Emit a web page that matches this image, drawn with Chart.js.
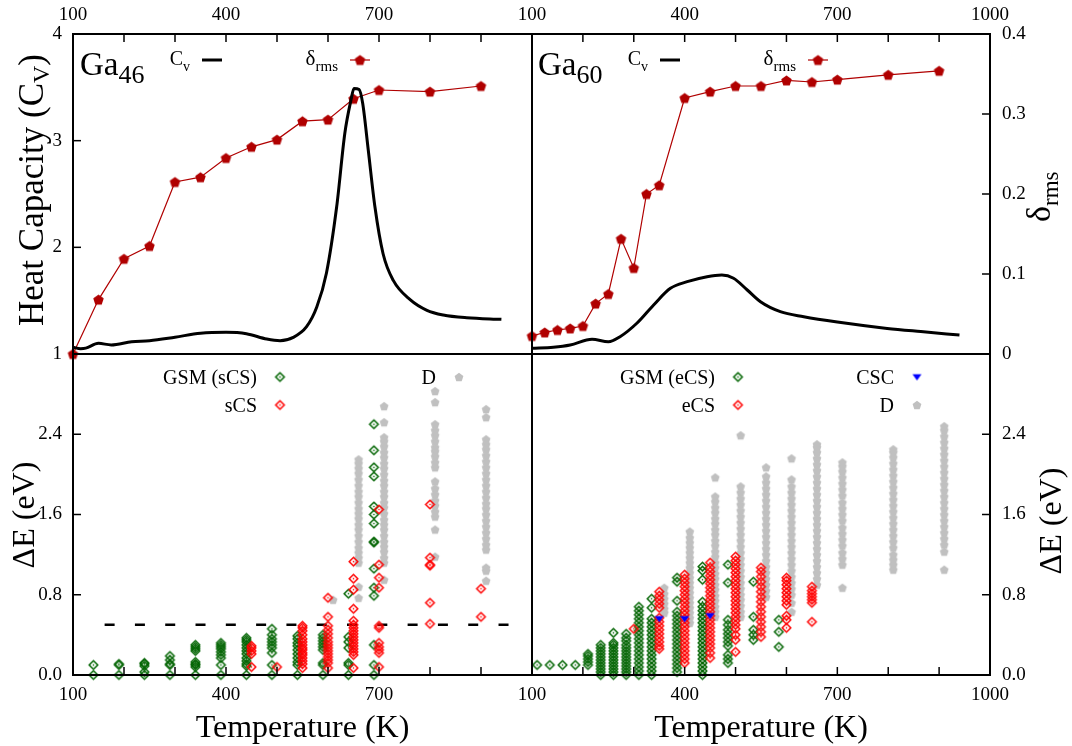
<!DOCTYPE html>
<html>
<head>
<meta charset="utf-8">
<script src="https://cdn.jsdelivr.net/npm/chart.js@4/dist/chart.umd.min.js"></script>
<style>
  body { margin: 0; background: #fff; }
  #wrap { position: relative; width: 1072px; height: 746px; }
  canvas { position: absolute; left: 0; top: 0; }
</style>
</head>
<body>
<div id="wrap">
  <canvas id="tl" width="1072" height="746"></canvas>
  <canvas id="tr" width="1072" height="746"></canvas>
  <canvas id="bl" width="1072" height="746"></canvas>
  <canvas id="br" width="1072" height="746"></canvas>
</div>
<script>
// ---------- data ----------

// Ga46 : heat capacity and delta_rms
const cvTempL = [100, 115, 125, 150, 175, 215, 250, 300, 350, 400, 440, 480, 506, 532, 558, 578, 597, 617, 633, 645, 651, 661, 668, 679, 692, 708, 728, 761, 794, 826, 872, 940]
const cvL = [1.063, 1.05, 1.055, 1.10, 1.085, 1.115, 1.125, 1.158, 1.194, 1.203, 1.19, 1.14, 1.125, 1.156, 1.256, 1.44, 1.76, 2.38, 3.07, 3.38, 3.49, 3.48, 3.35, 2.91, 2.38, 1.94, 1.69, 1.51, 1.41, 1.366, 1.34, 1.325]
const deltaTempL = [100, 150, 200, 250, 300, 350, 400, 450, 500, 550, 600, 650, 700, 800, 900]
const deltaL = [0.0, 0.068, 0.119, 0.135, 0.215, 0.221, 0.245, 0.259, 0.268, 0.291, 0.293, 0.319, 0.330, 0.328, 0.335]

// Ga60 : heat capacity and delta_rms
const cvTempR = [100, 142, 175, 218, 250, 273, 306, 339, 372, 405, 444, 473, 496, 523, 549, 588, 634, 700, 798, 864, 940]
const cvR = [1.053, 1.063, 1.084, 1.138, 1.115, 1.162, 1.288, 1.46, 1.616, 1.678, 1.725, 1.74, 1.71, 1.60, 1.49, 1.397, 1.35, 1.30, 1.24, 1.21, 1.178]
const deltaTempR = [100, 125, 150, 175, 200, 225, 250, 275, 300, 325, 350, 400, 450, 500, 550, 600, 650, 700, 800, 900]
const deltaR = [0.0225, 0.027, 0.030, 0.032, 0.035, 0.063, 0.075, 0.144, 0.1075, 0.200, 0.211, 0.320, 0.328, 0.335, 0.335, 0.342, 0.340, 0.343, 0.349, 0.354]

// Ga46 : energy spread per temperature (eV)
const gsmTempL = [140, 190, 240, 290, 340, 390, 440, 490, 540, 590, 640, 690]
const gsmL = [
  [0.0, 0.10],
  [0.0, 0.10, 0.11],
  [0.0, 0.03, 0.09, 0.11, 0.12],
  [0.0, 0.10, 0.11, 0.15, 0.19],
  [0.0, 0.08, 0.10, 0.11, 0.13, 0.24, 0.26, 0.28, 0.30],
  [0.0, 0.10, 0.17, 0.20, 0.23, 0.26, 0.28, 0.30, 0.32],
  [0.0, 0.09, 0.11, 0.14, 0.17, 0.21, 0.24, 0.27, 0.30, 0.33, 0.35, 0.37],
  [0.0, 0.10, 0.22, 0.27, 0.30, 0.33, 0.36, 0.40, 0.46],
  [0.0, 0.10, 0.13, 0.17, 0.21, 0.25, 0.29, 0.32, 0.36, 0.39],
  [0.0, 0.10, 0.12, 0.25, 0.28, 0.31, 0.34, 0.37, 0.40],
  [0.0, 0.10, 0.12, 0.27, 0.33, 0.38, 0.81],
  [0.0, 0.10, 0.30, 0.79, 0.87, 1.06, 1.32, 1.33, 1.51, 1.60, 1.68, 1.98, 2.07, 2.24, 2.50]
]
const scsTempL = [450, 500, 550, 600, 650, 700, 800, 900]
const scsL = [
  [0.08, 0.21, 0.24, 0.27, 0.29],
  [0.08],
  [0.07, 0.11, 0.14, 0.17, 0.20, 0.22, 0.25, 0.27, 0.30, 0.33, 0.36, 0.40, 0.44, 0.47, 0.49],
  [0.07, 0.12, 0.15, 0.18, 0.21, 0.24, 0.27, 0.30, 0.33, 0.37, 0.41, 0.45, 0.49, 0.58, 0.77],
  [0.07, 0.20, 0.23, 0.26, 0.29, 0.32, 0.35, 0.38, 0.41, 0.44, 0.47, 0.50, 0.54, 0.66, 0.85, 0.96, 1.13],
  [0.08, 0.22, 0.25, 0.28, 0.32, 0.47, 0.49, 0.87, 0.97, 1.10, 1.65],
  [0.51, 0.72, 1.09, 1.10, 1.17, 1.70],
  [0.58, 0.86]
]
const dTempL = [610, 660, 710, 810, 910]
const dL = [
  [0.75],
  [0.77, 0.88, 1.12, 1.17, 1.22, 1.27, 1.33, 1.39, 1.45, 1.50, 1.56, 1.61, 1.66, 1.72, 1.78, 1.83, 1.89, 1.95, 2.01, 2.06, 2.11, 2.15],
  [0.95, 1.12, 1.17, 1.23, 1.28, 1.33, 1.39, 1.45, 1.50, 1.55, 1.61, 1.67, 1.72, 1.78, 1.83, 1.89, 1.94, 2.00, 2.06, 2.11, 2.17, 2.22, 2.28, 2.33, 2.37, 2.52, 2.68],
  [1.18, 1.45, 1.58, 1.63, 1.69, 1.74, 1.80, 1.86, 1.93, 2.07, 2.12, 2.18, 2.23, 2.27, 2.33, 2.39, 2.44, 2.50, 2.72, 2.83],
  [0.94, 1.04, 1.07, 1.25, 1.30, 1.36, 1.42, 1.48, 1.54, 1.60, 1.66, 1.71, 1.77, 1.83, 1.89, 1.95, 2.01, 2.07, 2.13, 2.19, 2.25, 2.30, 2.35, 2.57, 2.65]
]
// dashed reference level
const refTemp = [162, 960]
const refLevel = [0.5, 0.5]

// Ga60 : energy spread per temperature (eV)
const gsmTempR = [110, 135, 160, 185, 210, 235, 260, 285, 310, 335, 385, 435, 485, 535, 585]
const gsmR = [
  [0.10],
  [0.10],
  [0.10],
  [0.10],
  [0.10, 0.13, 0.16, 0.19, 0.21],
  [0.0, 0.03, 0.06, 0.09, 0.12, 0.15, 0.18, 0.21, 0.24, 0.27, 0.30],
  [0.0, 0.03, 0.06, 0.09, 0.12, 0.15, 0.18, 0.21, 0.24, 0.27, 0.30, 0.32, 0.42],
  [0.0, 0.03, 0.06, 0.09, 0.12, 0.15, 0.18, 0.21, 0.24, 0.27, 0.30, 0.34, 0.37, 0.41],
  [0.0, 0.04, 0.08, 0.12, 0.16, 0.20, 0.24, 0.28, 0.32, 0.36, 0.40, 0.44, 0.48, 0.52, 0.56, 0.60, 0.64, 0.68],
  [0.0, 0.04, 0.08, 0.12, 0.16, 0.20, 0.24, 0.28, 0.32, 0.36, 0.40, 0.44, 0.48, 0.52, 0.56, 0.67, 0.76],
  [0.03, 0.07, 0.11, 0.15, 0.19, 0.23, 0.27, 0.31, 0.35, 0.39, 0.43, 0.47, 0.51, 0.55, 0.59, 0.63, 0.74, 0.93, 0.97],
  [0.0, 0.04, 0.08, 0.12, 0.16, 0.20, 0.24, 0.28, 0.32, 0.36, 0.40, 0.44, 0.48, 0.52, 0.56, 0.60, 0.64, 0.68, 0.73, 0.95, 1.04, 1.08],
  [0.12, 0.16, 0.20, 0.29, 0.33, 0.37, 0.41, 0.45, 0.50, 0.55, 0.92, 1.10],
  [0.35, 0.40, 0.45, 0.58, 0.93],
  [0.28, 0.43, 0.55]
]
const ecsTempR = [300, 350, 400, 450, 500, 550, 600, 650]
const ecsR = [
  [0.46],
  [0.26, 0.29, 0.33, 0.37, 0.41, 0.45, 0.49, 0.53, 0.57, 0.67, 0.71, 0.75, 0.79, 0.83],
  [0.12, 0.16, 0.20, 0.24, 0.28, 0.32, 0.36, 0.40, 0.44, 0.48, 0.52, 0.56, 0.60, 0.64, 0.68, 0.72, 0.76, 0.80, 0.84, 0.88, 0.92, 0.96, 1.00],
  [0.17, 0.22, 0.27, 0.31, 0.35, 0.39, 0.43, 0.47, 0.51, 0.55, 0.59, 0.63, 0.67, 0.71, 0.75, 0.79, 0.83, 0.87, 0.91, 0.95, 0.99, 1.03, 1.07, 1.12],
  [0.23, 0.35, 0.40, 0.46, 0.50, 0.54, 0.58, 0.62, 0.66, 0.70, 0.74, 0.78, 0.82, 0.86, 0.90, 0.94, 0.98, 1.02, 1.06, 1.10, 1.14, 1.18],
  [0.38, 0.43, 0.48, 0.53, 0.58, 0.63, 0.68, 0.73, 0.78, 0.83, 0.88, 0.93, 0.98, 1.03, 1.07],
  [0.47, 0.55, 0.59, 0.70, 0.74, 0.78, 0.82, 0.86, 0.90, 0.94, 0.97],
  [0.53, 0.72, 0.75, 0.78, 0.81, 0.84, 0.88]
]
const cscTempR = [350, 400, 450]
const cscR = [0.56, 0.56, 0.59]
const dTempR = [360, 410, 460, 510, 560, 610, 660, 710, 810, 910]
const dR = [
  [0.62, 0.66, 0.71, 0.76, 0.81, 0.87],
  [0.52, 0.57, 0.62, 0.67, 0.72, 0.77, 0.82, 0.87, 0.92, 0.97, 1.02, 1.07, 1.12, 1.17, 1.22, 1.27, 1.32, 1.37, 1.43],
  [0.58, 0.63, 0.68, 0.74, 0.79, 0.85, 0.90, 0.96, 1.01, 1.07, 1.12, 1.18, 1.23, 1.29, 1.34, 1.40, 1.45, 1.51, 1.56, 1.62, 1.67, 1.73, 1.78, 1.97],
  [0.58, 0.63, 0.69, 0.75, 0.80, 0.86, 0.92, 0.98, 1.04, 1.10, 1.16, 1.22, 1.28, 1.34, 1.40, 1.46, 1.52, 1.58, 1.64, 1.70, 1.76, 1.82, 1.88, 2.39],
  [0.78, 0.84, 0.90, 0.96, 1.02, 1.08, 1.14, 1.20, 1.26, 1.32, 1.38, 1.44, 1.50, 1.56, 1.62, 1.68, 1.74, 1.80, 1.86, 1.92, 1.98, 2.07],
  [0.63, 0.72, 0.80, 0.86, 0.92, 0.98, 1.04, 1.10, 1.16, 1.22, 1.28, 1.34, 1.40, 1.46, 1.52, 1.58, 1.64, 1.70, 1.76, 1.82, 1.88, 1.95, 2.16],
  [0.90, 0.96, 1.02, 1.08, 1.14, 1.20, 1.26, 1.32, 1.38, 1.44, 1.50, 1.56, 1.62, 1.68, 1.74, 1.80, 1.86, 1.92, 1.98, 2.04, 2.10, 2.16, 2.22, 2.27, 2.30],
  [0.87, 1.10, 1.16, 1.22, 1.29, 1.35, 1.41, 1.47, 1.54, 1.60, 1.66, 1.72, 1.79, 1.85, 1.91, 1.97, 2.03, 2.08, 2.12],
  [1.05, 1.10, 1.15, 1.20, 1.27, 1.33, 1.39, 1.45, 1.51, 1.57, 1.63, 1.69, 1.75, 1.81, 1.87, 1.93, 1.99, 2.05, 2.11, 2.17, 2.22, 2.25],
  [1.05, 1.23, 1.30, 1.36, 1.42, 1.48, 1.54, 1.60, 1.66, 1.72, 1.78, 1.84, 1.90, 1.96, 2.02, 2.08, 2.14, 2.20, 2.26, 2.32, 2.38, 2.44, 2.48]
]

// tick labels shown on each axis
const tempLabelsLeft = [100, 400, 700]
const tempLabelsRight = [100, 400, 700, 1000]

// ---------- helpers ----------
const serif = '"Liberation Serif", "Times New Roman", serif'
Chart.defaults.color = '#000'
Chart.defaults.font.family = serif
const tickFont = { family: serif, size: 19 }

const darkRed = '#b00000'
const green = '#006400'
const red = '#ff0000'
const grey = '#c0c0c0'
const blue = '#0000ff'

// turn the arrays into {x, y} points
const line = (T, V) => T.map((t, i) => ({ x: t, y: V[i] }))
const columns = (T, E) => T.flatMap((t, i) => E[i].map(e => ({ x: t, y: e })))

// marker images (gnuplot style symbols)
function pentagon(r, color) {
  const s = Math.ceil(2 * r + 2)
  const c = document.createElement('canvas')
  c.width = c.height = s
  const g = c.getContext('2d')
  g.fillStyle = color
  g.beginPath()
  for (let i = 0; i < 5; i++) {
    const a = -Math.PI / 2 + i * 2 * Math.PI / 5
    g.lineTo(s / 2 + r * Math.cos(a), s / 2 + r * Math.sin(a) + r * 0.1)
  }
  g.closePath()
  g.fill()
  return c
}
function diamond(r, color) {
  const s = Math.ceil(2 * r + 4)
  const c = document.createElement('canvas')
  c.width = c.height = s
  const g = c.getContext('2d')
  g.strokeStyle = color
  g.fillStyle = color
  g.lineWidth = 1.5
  g.beginPath()
  g.moveTo(s / 2, s / 2 - r)
  g.lineTo(s / 2 + r, s / 2)
  g.lineTo(s / 2, s / 2 + r)
  g.lineTo(s / 2 - r, s / 2)
  g.closePath()
  g.stroke()
  g.fillRect(s / 2 - 0.7, s / 2 - 0.7, 1.4, 1.4)
  return c
}
function triangleDown(r, color) {
  const s = Math.ceil(2 * r + 2)
  const c = document.createElement('canvas')
  c.width = c.height = s
  const g = c.getContext('2d')
  g.fillStyle = color
  g.beginPath()
  g.moveTo(s / 2 - r, s / 2 - r * 0.6)
  g.lineTo(s / 2 + r, s / 2 - r * 0.6)
  g.lineTo(s / 2, s / 2 + r * 0.8)
  g.closePath()
  g.fill()
  return c
}
const bigPenta = pentagon(5.5, darkRed)
const greyPenta = pentagon(4.6, grey)
const greenDiamond = diamond(4.3, green)
const redDiamond = diamond(4.3, red)
const blueTri = triangleDown(4.5, blue)

// text runs with subscripts: parts = [[text, size, dy], ...]
function runs(ctx, x, y, parts, align) {
  let w = 0
  const widths = parts.map(p => {
    ctx.font = p[1] + 'px ' + serif
    const m = ctx.measureText(p[0]).width
    w += m
    return m
  })
  let cx = align === 'right' ? x - w : align === 'center' ? x - w / 2 : x
  ctx.textAlign = 'left'
  ctx.textBaseline = 'alphabetic'
  ctx.fillStyle = '#000'
  parts.forEach((p, i) => {
    ctx.font = p[1] + 'px ' + serif
    ctx.fillText(p[0], cx, y + (p[2] || 0))
    cx += widths[i]
  })
}
function vruns(ctx, x, y, parts, align) {
  ctx.save()
  ctx.translate(x, y)
  ctx.rotate(-Math.PI / 2)
  runs(ctx, 0, 0, parts, align)
  ctx.restore()
}
function marker(ctx, img, x, y) {
  ctx.drawImage(img, x - img.width / 2, y - img.height / 2)
}
function sampleLine(ctx, x1, x2, y, color, width) {
  ctx.strokeStyle = color
  ctx.lineWidth = width
  ctx.beginPath()
  ctx.moveTo(x1, y)
  ctx.lineTo(x2, y)
  ctx.stroke()
}

// box around the plot area and inward tick marks
const framePlugin = {
  id: 'frame',
  afterDatasetsDraw(chart, args, opts) {
    const { ctx, chartArea: a } = chart
    ctx.save()
    ctx.strokeStyle = '#000'
    ctx.lineWidth = 1.5
    ;(opts.ticks || []).forEach(t => {
      const s = chart.scales[t.scale]
      s.ticks.forEach(tk => {
        if (tk.value <= s.min + 1e-9 || tk.value >= s.max - 1e-9) return
        const p = s.getPixelForValue(tk.value)
        ctx.beginPath()
        if (t.side === 'top') { ctx.moveTo(p, a.top); ctx.lineTo(p, a.top + 8) }
        if (t.side === 'bottom') { ctx.moveTo(p, a.bottom); ctx.lineTo(p, a.bottom - 8) }
        if (t.side === 'left') { ctx.moveTo(a.left, p); ctx.lineTo(a.left + 8, p) }
        if (t.side === 'right') { ctx.moveTo(a.right, p); ctx.lineTo(a.right - 8, p) }
        ctx.stroke()
      })
    })
    ctx.lineWidth = 2
    ctx.strokeRect(a.left, a.top, a.right - a.left, a.bottom - a.top)
    ctx.restore()
  }
}

function tempAxis(position, labels, size, pad) {
  return {
    type: 'linear', position: position, min: 100, max: 1000,
    ticks: { stepSize: 100, autoSkip: false, maxRotation: 0, padding: pad, font: tickFont,
      callback: v => labels.includes(v) ? String(v) : '' },
    grid: { display: false, drawTicks: false },
    border: { display: false },
    afterFit: s => { s.height = size }
  }
}
function valueAxis(position, min, max, step, fmt, size, pad) {
  return {
    type: 'linear', position: position, min: min, max: max,
    ticks: { stepSize: step, autoSkip: false, padding: pad, font: tickFont, callback: fmt },
    grid: { display: false, drawTicks: false },
    border: { display: false },
    afterFit: s => { s.width = size }
  }
}
const base = {
  responsive: false,
  animation: false,
  events: [],
  plugins: { legend: { display: false }, tooltip: { enabled: false } }
}
const cvFmt = v => String(v)
const deltaFmt = v => String(v)
const eFmt = v => v < 3 ? v.toFixed(1) : ''

// ---------- top left: Ga46 ----------
new Chart(document.getElementById('tl'), {
  type: 'line',
  data: {
    datasets: [
      { data: line(cvTempL, cvL), yAxisID: 'y', borderColor: '#000', borderWidth: 3, pointRadius: 0,
        cubicInterpolationMode: 'monotone', clip: false, order: 0 },
      { data: line(deltaTempL, deltaL), yAxisID: 'y2', borderColor: darkRed, borderWidth: 1.2,
        pointStyle: bigPenta, pointRadius: 5, clip: false, order: 1 }
    ]
  },
  options: Object.assign({}, base, {
    layout: { padding: { left: 0, top: 0, right: 540, bottom: 392 } },
    scales: {
      x: tempAxis('top', tempLabelsLeft, 34, 8),
      y: valueAxis('left', 1, 4, 1, cvFmt, 73, 11),
      y2: { display: false, min: 0, max: 0.4 }
    },
    plugins: Object.assign({}, base.plugins, {
      frame: { ticks: [{ scale: 'x', side: 'top' }, { scale: 'y', side: 'left' }] }
    })
  }),
  plugins: [framePlugin, {
    id: 'textTL',
    afterDraw(chart) {
      const ctx = chart.ctx
      ctx.save()
      runs(ctx, 80, 75, [['Ga', 33], ['46', 26, 8]])
      runs(ctx, 190, 65, [['C', 20], ['v', 14, 6]], 'right')
      sampleLine(ctx, 202, 222, 60, '#000', 3)
      runs(ctx, 338, 65, [['δ', 21], ['rms', 15, 6]], 'right')
      sampleLine(ctx, 350, 370, 60, darkRed, 1.2)
      marker(ctx, bigPenta, 360, 60)
      vruns(ctx, 43, 190, [['Heat Capacity (C', 35], ['V', 24, 6], [')', 35]], 'center')
      ctx.restore()
    }
  }]
})

// ---------- top right: Ga60 ----------
new Chart(document.getElementById('tr'), {
  type: 'line',
  data: {
    datasets: [
      { data: line(cvTempR, cvR), yAxisID: 'y', borderColor: '#000', borderWidth: 3, pointRadius: 0,
        cubicInterpolationMode: 'monotone', clip: false, order: 0 },
      { data: line(deltaTempR, deltaR), yAxisID: 'y2', borderColor: darkRed, borderWidth: 1.2,
        pointStyle: bigPenta, pointRadius: 5, clip: false, order: 1 }
    ]
  },
  options: Object.assign({}, base, {
    layout: { padding: { left: 532, top: 0, right: 0, bottom: 392 } },
    scales: {
      x: tempAxis('top', tempLabelsRight, 34, 8),
      y: { display: false, min: 1, max: 4 },
      y2: valueAxis('right', 0, 0.4, 0.1, deltaFmt, 82, 12)
    },
    plugins: Object.assign({}, base.plugins, {
      frame: { ticks: [{ scale: 'x', side: 'top' }, { scale: 'y2', side: 'right' }] }
    })
  }),
  plugins: [framePlugin, {
    id: 'textTR',
    afterDraw(chart) {
      const ctx = chart.ctx
      ctx.save()
      runs(ctx, 538, 75, [['Ga', 33], ['60', 26, 8]])
      runs(ctx, 648, 65, [['C', 20], ['v', 14, 6]], 'right')
      sampleLine(ctx, 660, 680, 60, '#000', 3)
      runs(ctx, 796, 65, [['δ', 21], ['rms', 15, 6]], 'right')
      sampleLine(ctx, 808, 828, 60, darkRed, 1.2)
      marker(ctx, bigPenta, 818, 60)
      vruns(ctx, 1050, 222, [['δ', 34], ['rms', 23, 8]], 'left')
      ctx.restore()
    }
  }]
})

// ---------- bottom left: Ga46 energies ----------
new Chart(document.getElementById('bl'), {
  type: 'scatter',
  data: {
    datasets: [
      { type: 'line', data: line(refTemp, refLevel), borderColor: '#000', borderWidth: 2.5,
        borderDash: [10, 20.3], pointRadius: 0, clip: false, order: 4 },
      { data: columns(dTempL, dL), pointStyle: greyPenta, pointRadius: 4, clip: false, order: 3 },
      { data: columns(gsmTempL, gsmL), pointStyle: greenDiamond, pointRadius: 4, clip: false, order: 2 },
      { data: columns(scsTempL, scsL), pointStyle: redDiamond, pointRadius: 4, clip: false, order: 1 }
    ]
  },
  options: Object.assign({}, base, {
    layout: { padding: { left: 0, top: 354, right: 540, bottom: 0 } },
    scales: {
      x: tempAxis('bottom', tempLabelsLeft, 71, 9),
      y: valueAxis('left', 0, 3.2, 0.8, eFmt, 73, 11)
    },
    plugins: Object.assign({}, base.plugins, {
      frame: { ticks: [{ scale: 'x', side: 'bottom' }, { scale: 'y', side: 'left' }] }
    })
  }),
  plugins: [framePlugin, {
    id: 'textBL',
    afterDraw(chart) {
      const ctx = chart.ctx
      ctx.save()
      runs(ctx, 257, 384, [['GSM (sCS)', 20]], 'right')
      marker(ctx, greenDiamond, 280, 377)
      runs(ctx, 257, 412, [['sCS', 20]], 'right')
      marker(ctx, redDiamond, 280, 405)
      runs(ctx, 436, 384, [['D', 20]], 'right')
      marker(ctx, greyPenta, 459, 377)
      vruns(ctx, 34, 515, [['ΔE (eV)', 32]], 'center')
      runs(ctx, 302.5, 737, [['Temperature (K)', 32]], 'center')
      ctx.restore()
    }
  }]
})

// ---------- bottom right: Ga60 energies ----------
new Chart(document.getElementById('br'), {
  type: 'scatter',
  data: {
    datasets: [
      { data: columns(dTempR, dR), pointStyle: greyPenta, pointRadius: 4, clip: false, order: 4 },
      { data: columns(gsmTempR, gsmR), pointStyle: greenDiamond, pointRadius: 4, clip: false, order: 3 },
      { data: columns(ecsTempR, ecsR), pointStyle: redDiamond, pointRadius: 4, clip: false, order: 2 },
      { data: line(cscTempR, cscR), pointStyle: blueTri, pointRadius: 4, clip: false, order: 1 }
    ]
  },
  options: Object.assign({}, base, {
    layout: { padding: { left: 532, top: 354, right: 0, bottom: 0 } },
    scales: {
      x: tempAxis('bottom', tempLabelsRight, 71, 9),
      y: valueAxis('right', 0, 3.2, 0.8, eFmt, 82, 12)
    },
    plugins: Object.assign({}, base.plugins, {
      frame: { ticks: [{ scale: 'x', side: 'bottom' }, { scale: 'y', side: 'right' }] }
    })
  }),
  plugins: [framePlugin, {
    id: 'textBR',
    afterDraw(chart) {
      const ctx = chart.ctx
      ctx.save()
      runs(ctx, 715, 384, [['GSM (eCS)', 20]], 'right')
      marker(ctx, greenDiamond, 738, 377)
      runs(ctx, 715, 412, [['eCS', 20]], 'right')
      marker(ctx, redDiamond, 738, 405)
      runs(ctx, 894, 384, [['CSC', 20]], 'right')
      marker(ctx, blueTri, 917, 377)
      runs(ctx, 894, 412, [['D', 20]], 'right')
      marker(ctx, greyPenta, 917, 405)
      vruns(ctx, 1061, 521, [['ΔE (eV)', 32]], 'center')
      runs(ctx, 761, 737, [['Temperature (K)', 32]], 'center')
      ctx.restore()
    }
  }]
})
</script>
</body>
</html>
